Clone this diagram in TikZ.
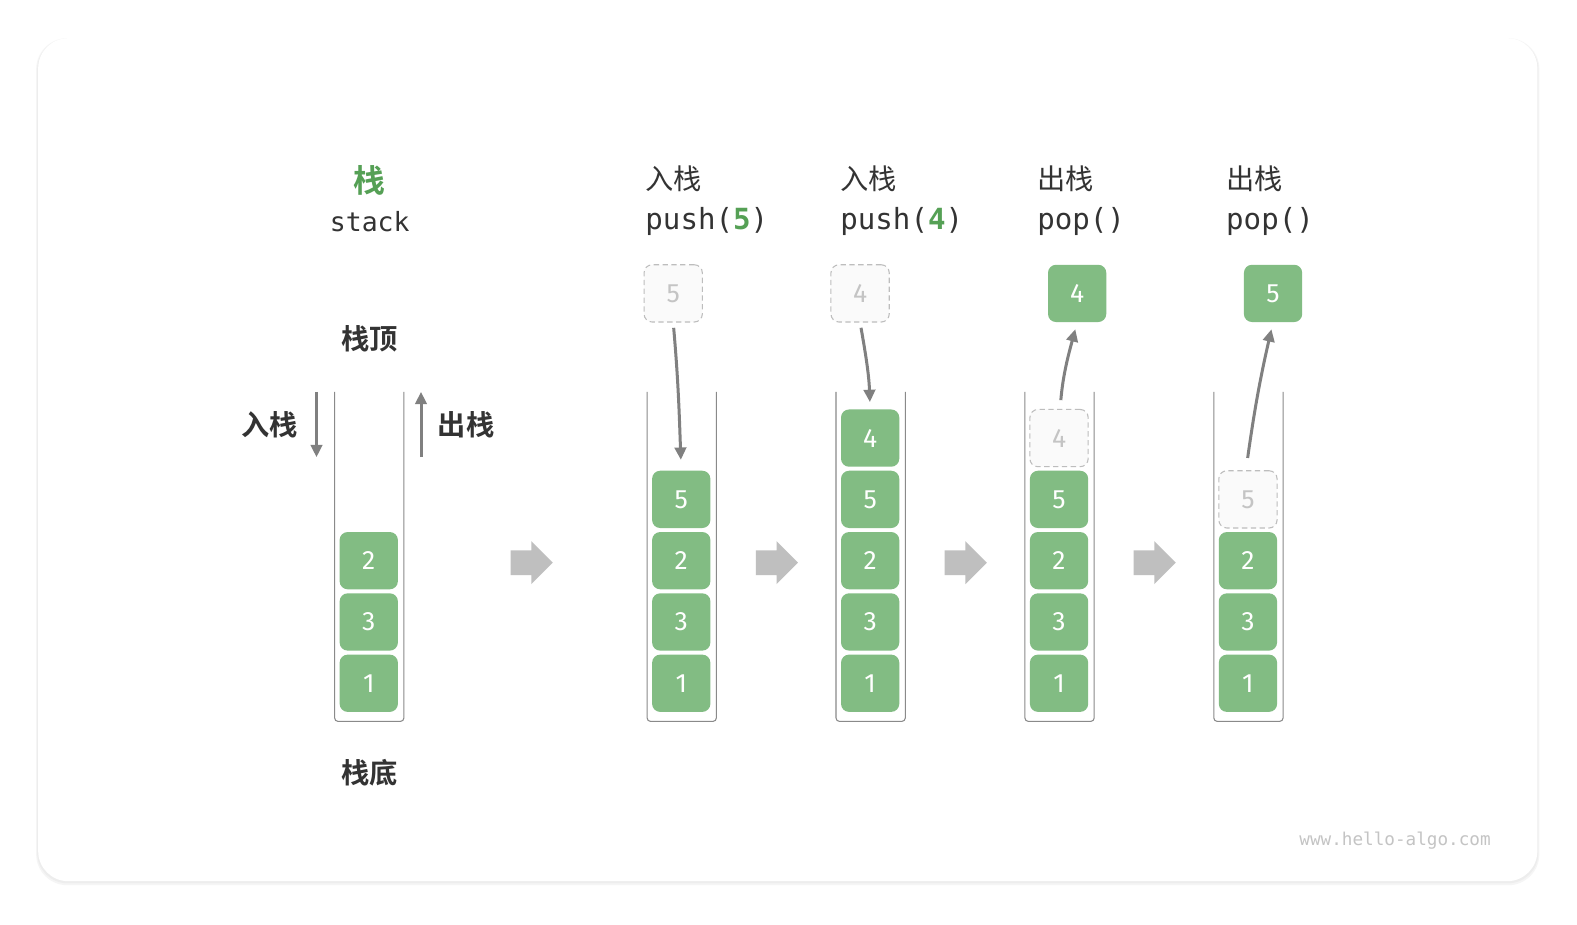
\documentclass[tikz,border=0pt]{standalone}
\usepackage{fontspec}
\setmonofont{DejaVu Sans Mono}
\newfontfamily\cjk{Noto Sans CJK SC}[BoldFont={Noto Sans CJK SC Bold}]
\newfontfamily\numf{Fira Sans}
\usepackage{tikz}
\usetikzlibrary{arrows.meta, shapes.arrows}
\definecolor{hgreen}{HTML}{55A055}
\definecolor{blockgreen}{HTML}{82BC83}
\definecolor{ink}{HTML}{333333}
\definecolor{ghostline}{HTML}{BDBDBD}
\definecolor{ghostfill}{HTML}{FAFAFA}
\definecolor{ghosttext}{HTML}{C4C4C4}
\definecolor{arrowgray}{HTML}{BFBFBF}
\definecolor{flowgray}{HTML}{808080}
\definecolor{tubegray}{HTML}{8A8A8A}

\begin{document}
\begin{tikzpicture}[x=0.02cm, y=-0.02cm,
    block/.style={rounded corners=0.16cm, fill=blockgreen, text=white, inner sep=0,
      minimum width=1.16cm, minimum height=1.14cm, font=\numf\fontsize{15}{16}\selectfont},
    ghost/.style={block, fill=ghostfill, draw=ghostline, dashed, dash pattern=on 3pt off 2pt,
      line width=0.6pt, text=ghosttext},
    head/.style={anchor=west, text=ink, inner sep=0, font=\cjk\fontsize{16}{17}\selectfont},
    code/.style={anchor=west, text=ink, inner sep=0, font=\ttfamily\fontsize{16.5}{17}\selectfont},
    boldlabel/.style={text=ink, inner sep=0, font=\cjk\bfseries\fontsize{16}{17}\selectfont},
    flow/.style={draw=flowgray, line width=1.7pt, -{Triangle[length=7pt, width=6.5pt]}},
    tube/.style={draw=tubegray, line width=0.6pt, rounded corners=2pt},
    bigarrow/.style={single arrow, fill=arrowgray, inner xsep=0, inner ysep=0.24cm, text width=0,
      text height=0, text depth=0, minimum height=0.84cm, single arrow head extend=0.18cm,
      single arrow head indent=0}]

    \useasboundingbox (0,0) rectangle (1569.5,920.5);
    \fill[white] (0,0) rectangle (1569.5,920.5);
    % card
    \fill[black!4, rounded corners=0.62cm] (36,38) rectangle (1532,881);
    \fill[black!7, rounded corners=0.6cm] (37,39) rectangle (1531,879);
    \fill[white, rounded corners=0.6cm] (38,38) rectangle (1530,877);

    % tubes
    \foreach \x in {333,644,832,1020,1208}
      \draw[tube] (\x,390) -- (\x,718) -- (\x+69,718) -- (\x+69,390);

    % stack
    \node[boldlabel, text=hgreen, font=\cjk\bfseries\fontsize{18}{19}\selectfont] (title) at (368,180) {栈};
    \node[text=ink, inner sep=0, font=\ttfamily\fontsize{15}{16}\selectfont] (titlecode) at (368,221) {stack};
    \node[boldlabel] (top) at (368,337) {栈顶};
    \node[boldlabel] (bottom) at (368,769) {栈底};
    \node[boldlabel] (inlabel) at (268,423) {入栈};
    \node[boldlabel] (outlabel) at (464,423) {出栈};
    \coordinate (ina) at (315,390);
    \coordinate (inb) at (315,455);
    \coordinate (outa) at (419,455);
    \coordinate (outb) at (419,390);
    \draw[flow] (ina) -- (inb);
    \draw[flow] (outa) -- (outb);
    \node[block] (s11) at (367,680) {1};
    \node[block] (s12) at (367,619) {3};
    \node[block] (s13) at (367,558) {2};

    % push(5)
    \node[head] (h2) at (642,178) {入栈};
    \node[code] (c2) at (642,220) {push(\textcolor{hgreen}{\textbf{5}})};
    \node[ghost] (g2) at (670,292) {5};
    \node[block] (s21) at (678,680) {1};
    \node[block] (s22) at (678,619) {3};
    \node[block] (s23) at (678,558) {2};
    \node[block] (s24) at (678,497) {5};
    \draw[flow, shorten <=3pt, shorten >=6pt] (g2.south) to[out=-85, in=92] (s24.north);

    % push(4)
    \node[head] (h3) at (836,178) {入栈};
    \node[code] (c3) at (836,220) {push(\textcolor{hgreen}{\textbf{4}})};
    \node[ghost] (g3) at (856,292) {4};
    \node[block] (s31) at (866,680) {1};
    \node[block] (s32) at (866,619) {3};
    \node[block] (s33) at (866,558) {2};
    \node[block] (s34) at (866,497) {5};
    \node[block] (s35) at (866,436) {4};
    \draw[flow, shorten <=3pt, shorten >=4pt] (g3.south) to[out=-80, in=92] (s35.north);

    % pop()
    \node[head] (h4) at (1032,178) {出栈};
    \node[code] (c4) at (1032,220) {pop()};
    \node[block] (t4) at (1072,292) {4};
    \node[block] (s41) at (1054,680) {1};
    \node[block] (s42) at (1054,619) {3};
    \node[block] (s43) at (1054,558) {2};
    \node[block] (s44) at (1054,497) {5};
    \node[ghost] (s45) at (1054,436) {4};
    \draw[flow, shorten <=5pt, shorten >=4pt] ([xshift=0.02cm]s45.north) to[out=85, in=-105] (t4.south);

    % pop()
    \node[head] (h5) at (1220,178) {出栈};
    \node[code] (c5) at (1220,220) {pop()};
    \node[block] (t5) at (1267,292) {5};
    \node[block] (s51) at (1242,680) {1};
    \node[block] (s52) at (1242,619) {3};
    \node[block] (s53) at (1242,558) {2};
    \node[ghost] (s54) at (1242,497) {5};
    \draw[flow, shorten <=7pt, shorten >=4pt] ([xshift=-0.04cm]s54.north) to[out=82, in=-103] (t5.south);

    % steps
    \node[bigarrow] (a1) at (523,560) {};
    \node[bigarrow] (a2) at (767,560) {};
    \node[bigarrow] (a3) at (955,560) {};
    \node[bigarrow] (a4) at (1143,560) {};

    \node[anchor=east, text=ghosttext, inner sep=0, font=\ttfamily\fontsize{10}{11}\selectfont] (site) at (1484,837) {www.hello-algo.com};
\end{tikzpicture}
\end{document}
